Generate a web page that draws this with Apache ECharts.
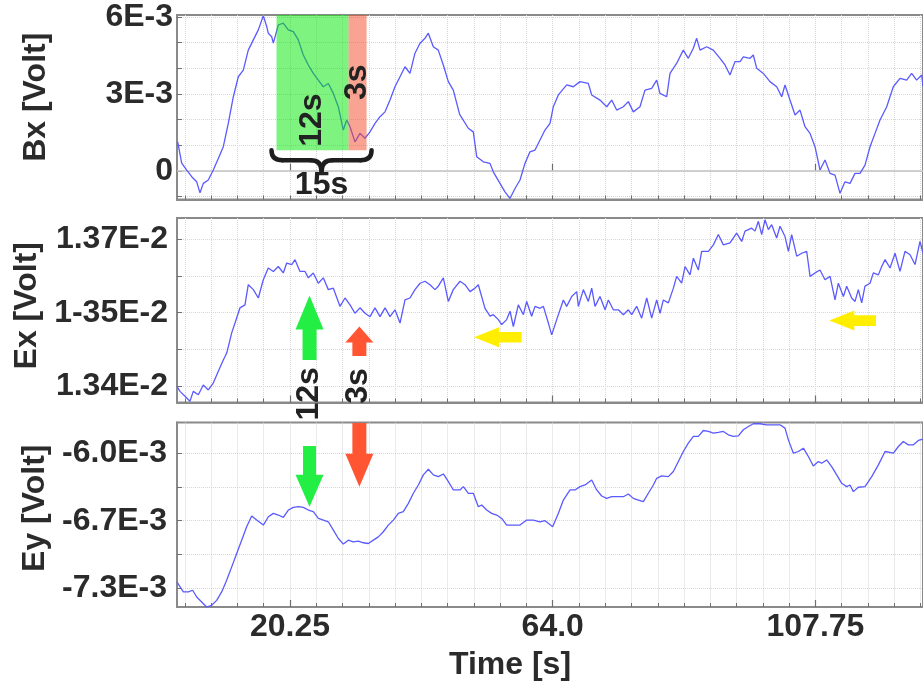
<!DOCTYPE html>
<html>
<head>
<meta charset="utf-8">
<script src="https://cdn.jsdelivr.net/npm/echarts@6/dist/echarts.min.js"></script>
<style>
  html, body { margin: 0; padding: 0; background: #fff; }
  #chart { width: 923px; height: 687px; }
</style>
</head>
<body>
<div id="chart"></div>
<script>
// ---- Recorded channels -------------------------------------------------
// Bx magnetic channel, values in units of 1e-3 V
const bxTime = [1.55, 2.21, 3.05, 3.88, 4.71, 5.26, 5.81, 6.64, 7.47, 8.31, 9.14, 9.97, 10.81, 11.64, 12.47, 13.3, 14.14, 14.97, 15.8, 16.37, 16.63, 17.2, 17.47, 18.3, 19.13, 19.96, 20.8, 21.63, 22.46, 23.3, 24.13, 24.96, 25.79, 26.63, 27.46, 28.29, 29.12, 29.69, 30.24, 31.07, 31.9, 32.74, 33.57, 34.4, 35.24, 36.07, 36.9, 37.73, 38.57, 39.4, 40.23, 41.06, 41.9, 42.73, 43.28, 44.11, 44.94, 45.78, 46.61, 47.44, 48.5, 49.94, 50.77, 51.34, 52.44, 53.55, 54.1, 55.22, 56.05, 56.88, 57.72, 58.55, 59.38, 60.21, 61.05, 61.88, 62.71, 63.55, 64.1, 64.93, 66.33, 67.43, 68.54, 69.92, 70.49, 71.87, 72.99, 73.82, 74.65, 75.75, 76.59, 77.42, 78.53, 79.36, 80.48, 81.31, 81.86, 82.98, 83.53, 84.65, 85.74, 86.58, 87.41, 87.97, 88.53, 89.64, 90.74, 91.86, 92.69, 93.52, 94.35, 95.19, 95.74, 96.85, 97.4, 97.97, 99.07, 100.18, 101.3, 102.13, 102.68, 103.51, 104.35, 105.18, 106.01, 106.84, 107.68, 108.51, 109.34, 110.18, 111.01, 111.84, 112.67, 113.51, 114.34, 115.17, 116.0, 116.84, 117.67, 118.5, 119.62, 120.71, 121.83, 122.94, 123.77, 124.6, 125.44, 125.66];
const bxValue = [1.13, 0.30, 0.03, -0.23, -0.43, -0.86, -0.49, -0.36, 0.03, 0.48, 0.94, 1.85, 2.89, 3.67, 3.93, 4.71, 5.11, 5.50, 6.05, 5.63, 5.37, 5.23, 4.98, 5.69, 5.76, 5.50, 5.43, 5.11, 4.52, 4.13, 3.80, 3.54, 3.28, 3.41, 3.02, 2.50, 1.59, 1.98, 1.72, 1.13, 1.46, 1.27, 1.52, 1.85, 2.11, 2.30, 2.76, 3.28, 3.67, 4.06, 3.80, 4.59, 4.98, 5.17, 5.37, 4.84, 4.71, 4.13, 3.48, 3.15, 2.20, 1.66, 1.52, 0.55, 0.35, 0.29, -0.04, -0.49, -0.82, -1.08, -0.69, -0.36, 0.29, 0.74, 0.81, 1.20, 1.59, 1.85, 2.50, 2.96, 3.35, 3.28, 3.48, 3.41, 2.96, 2.76, 2.50, 2.76, 2.37, 2.50, 2.70, 2.30, 2.50, 3.15, 3.22, 3.54, 3.02, 2.89, 3.80, 4.20, 4.71, 4.39, 4.78, 5.17, 4.71, 4.84, 4.71, 4.39, 4.13, 3.74, 4.26, 4.26, 4.45, 4.39, 4.52, 4.00, 3.80, 3.48, 3.28, 2.89, 3.35, 2.76, 2.18, 2.37, 1.72, 1.46, 0.94, 0.03, 0.42, -0.10, -0.17, -0.88, -0.43, -0.49, -0.10, -0.10, 0.22, 0.94, 1.46, 1.98, 2.50, 3.28, 3.61, 3.54, 3.80, 3.54, 3.74, 3.28];

// Ex electric channel, values in units of 1e-2 V
const exTime = [1.43, 1.93, 2.76, 3.59, 4.14, 4.98, 5.81, 6.64, 7.47, 8.31, 9.14, 9.71, 10.54, 11.09, 11.92, 12.75, 13.3, 14.14, 14.97, 15.8, 16.63, 17.47, 18.3, 19.13, 19.7, 20.53, 21.08, 21.91, 22.75, 23.3, 24.13, 24.96, 25.79, 26.63, 27.46, 28.57, 29.41, 30.24, 31.07, 31.9, 32.74, 33.57, 34.4, 35.24, 36.07, 36.9, 37.73, 38.57, 39.4, 40.23, 41.06, 41.9, 42.73, 43.56, 44.4, 44.95, 45.78, 46.61, 47.44, 48.56, 49.39, 50.23, 51.06, 51.61, 52.72, 53.56, 54.11, 54.94, 55.5, 56.33, 56.89, 57.44, 58.27, 59.11, 59.66, 60.49, 61.05, 61.88, 62.44, 63.27, 63.83, 64.66, 65.77, 66.32, 67.16, 67.99, 68.27, 69.1, 69.93, 70.49, 71.04, 71.87, 72.71, 73.26, 74.09, 74.93, 75.76, 76.59, 77.15, 77.98, 78.81, 79.65, 80.48, 81.31, 81.87, 82.42, 83.25, 84.09, 84.64, 85.47, 86.03, 86.86, 87.42, 88.25, 88.8, 89.92, 90.75, 91.58, 92.41, 93.52, 94.63, 95.47, 96.02, 97.13, 97.69, 98.24, 98.8, 99.35, 99.91, 100.46, 101.29, 101.85, 102.68, 103.24, 103.79, 104.63, 105.46, 106.29, 106.85, 107.68, 108.51, 109.34, 110.18, 111.01, 111.56, 112.4, 112.95, 113.78, 114.34, 114.89, 115.45, 116.0, 116.84, 117.39, 118.23, 118.78, 119.34, 120.17, 121.0, 121.83, 122.66, 123.5, 124.33, 125.16, 125.66];
const exValue = [1.3400, 1.3390, 1.3380, 1.3370, 1.3390, 1.3383, 1.3403, 1.3393, 1.3407, 1.3431, 1.3454, 1.3468, 1.3509, 1.3529, 1.3560, 1.3566, 1.3607, 1.3597, 1.3580, 1.3617, 1.3641, 1.3634, 1.3644, 1.3631, 1.3651, 1.3648, 1.3658, 1.3634, 1.3634, 1.3621, 1.3631, 1.3610, 1.3621, 1.3597, 1.3600, 1.3563, 1.3580, 1.3566, 1.3549, 1.3560, 1.3549, 1.3542, 1.3560, 1.3542, 1.3560, 1.3542, 1.3556, 1.3529, 1.3576, 1.3580, 1.3597, 1.3610, 1.3614, 1.3607, 1.3597, 1.3604, 1.3621, 1.3573, 1.3597, 1.3614, 1.3607, 1.3593, 1.3600, 1.3607, 1.3559, 1.3543, 1.3546, 1.3536, 1.3526, 1.3536, 1.3553, 1.3522, 1.3566, 1.3546, 1.3573, 1.3543, 1.3563, 1.3559, 1.3563, 1.3529, 1.3505, 1.3536, 1.3576, 1.3563, 1.3583, 1.3593, 1.3563, 1.3597, 1.3573, 1.3600, 1.3563, 1.3583, 1.3556, 1.3576, 1.3556, 1.3556, 1.3546, 1.3556, 1.3546, 1.3563, 1.3539, 1.3580, 1.3539, 1.3576, 1.3549, 1.3576, 1.3570, 1.3600, 1.3624, 1.3610, 1.3644, 1.3627, 1.3661, 1.3637, 1.3675, 1.3675, 1.3688, 1.3709, 1.3688, 1.3692, 1.3712, 1.3695, 1.3716, 1.3722, 1.3716, 1.3736, 1.3709, 1.3739, 1.3719, 1.3729, 1.3702, 1.3726, 1.3705, 1.3675, 1.3709, 1.3665, 1.3671, 1.3675, 1.3624, 1.3631, 1.3637, 1.3617, 1.3624, 1.3576, 1.3610, 1.3583, 1.3604, 1.3580, 1.3573, 1.3597, 1.3570, 1.3604, 1.3610, 1.3631, 1.3627, 1.3644, 1.3658, 1.3641, 1.3671, 1.3634, 1.3675, 1.3668, 1.3648, 1.3695, 1.3671];

// Ey electric channel, values in units of 1e-3 V
const eyTime = [1.43, 1.65, 2.49, 3.32, 4.04, 4.71, 5.54, 6.37, 7.2, 8.04, 8.87, 9.7, 10.54, 11.37, 12.2, 13.03, 13.87, 14.7, 15.81, 16.64, 17.47, 18.31, 19.14, 19.97, 20.8, 21.64, 22.47, 23.3, 24.13, 24.97, 25.8, 26.63, 27.47, 28.3, 29.13, 29.96, 30.8, 31.63, 32.46, 33.29, 34.13, 34.96, 35.79, 36.62, 37.46, 38.29, 39.12, 39.96, 40.79, 41.62, 42.45, 43.29, 44.12, 44.95, 45.79, 46.62, 47.45, 48.56, 49.12, 49.95, 50.78, 51.61, 52.17, 53.0, 53.83, 54.67, 55.5, 56.33, 57.44, 58.55, 59.66, 60.77, 61.88, 62.72, 63.99, 64.94, 65.77, 66.88, 67.71, 68.54, 69.38, 70.49, 71.32, 72.15, 72.98, 73.82, 74.65, 75.76, 76.59, 77.42, 78.26, 79.09, 79.92, 80.76, 81.31, 82.14, 83.25, 84.09, 84.92, 85.75, 86.58, 87.42, 88.25, 89.08, 89.92, 90.75, 91.58, 92.41, 93.24, 94.08, 94.91, 95.74, 96.58, 97.41, 98.52, 99.63, 100.74, 101.85, 102.68, 103.24, 104.07, 104.9, 105.74, 106.57, 107.4, 108.23, 108.79, 109.62, 110.45, 111.29, 112.12, 112.95, 113.51, 114.06, 114.89, 116.0, 117.12, 118.23, 119.34, 120.73, 121.56, 122.39, 123.22, 124.06, 124.89, 125.66];
const eyValue = [-7.240, -7.255, -7.335, -7.335, -7.319, -7.384, -7.432, -7.480, -7.464, -7.416, -7.335, -7.223, -7.094, -6.965, -6.837, -6.708, -6.605, -6.644, -6.692, -6.612, -6.579, -6.595, -6.618, -6.547, -6.521, -6.515, -6.521, -6.547, -6.563, -6.628, -6.644, -6.660, -6.740, -6.821, -6.875, -6.837, -6.853, -6.846, -6.862, -6.869, -6.837, -6.805, -6.756, -6.692, -6.644, -6.579, -6.563, -6.483, -6.386, -6.306, -6.209, -6.155, -6.209, -6.226, -6.200, -6.274, -6.354, -6.354, -6.322, -6.386, -6.386, -6.515, -6.499, -6.547, -6.579, -6.595, -6.628, -6.692, -6.692, -6.692, -6.644, -6.644, -6.660, -6.650, -6.708, -6.579, -6.451, -6.354, -6.354, -6.322, -6.306, -6.258, -6.354, -6.412, -6.435, -6.419, -6.419, -6.419, -6.393, -6.435, -6.451, -6.467, -6.386, -6.306, -6.242, -6.219, -6.226, -6.177, -6.081, -5.984, -5.904, -5.839, -5.839, -5.782, -5.791, -5.807, -5.801, -5.791, -5.823, -5.839, -5.833, -5.775, -5.743, -5.717, -5.717, -5.727, -5.727, -5.727, -5.759, -5.872, -6.000, -5.984, -5.952, -6.032, -6.123, -6.081, -6.097, -6.065, -6.129, -6.209, -6.290, -6.322, -6.306, -6.370, -6.328, -6.322, -6.226, -6.113, -5.984, -6.000, -5.936, -5.888, -5.920, -5.920, -5.878, -5.865];

// ---- Axis ticks and labels ---------------------------------------------
const timeLabelValues = [20.25, 64.0, 107.75];
const timeLabelText = ['20.25', '64.0', '107.75'];
const timeStep = 4.375;      // minor grid spacing of the time axis
const timeRange = [1.43, 125.66];

const bxTickLabels = ['0', '3E-3', '6E-3'];
const bxTickValues = [0, 3e-3, 6e-3];
const exTickLabels = ['1.34E-2', '1-35E-2', '1.37E-2'];
const exTickValues = [1.34e-2, 1.355e-2, 1.37e-2];
const eyTickLabels = ['-7.3E-3', '-6.7E-3', '-6.0E-3'];
const eyTickValues = [-7.3e-3, -6.65e-3, -6.0e-3];

// ---- Annotations (time in s, values in the channel's own units) --------
const windowEdges = [18.0, 30.0, 33.0];   // 12 s window followed by a 3 s window
const windowFloor = 0.8;                   // lower edge of the shaded windows (1e-3 V)
const windowArrows = [
  // panel, time, tail value, tip value, colour, head length, head width, shaft width
  { panel: 1, t: 23.5, from: 1.3454, to: 1.3585, color: '#22ee44', head: 34, hw: 28, sw: 14 },
  { panel: 1, t: 31.8, from: 1.3462, to: 1.3522, color: '#ff5533', head: 16, hw: 28, sw: 14 },
  { panel: 2, t: 23.5, from: -5.930, to: -6.515, color: '#22ee44', head: 32, hw: 28, sw: 13 },
  { panel: 2, t: 31.8, from: -5.710, to: -6.322, color: '#ff5533', head: 33, hw: 28, sw: 14 }
];
const lagArrows = [
  { panel: 1, v: 1.3500, from: 58.83, to: 50.89 },
  { panel: 1, v: 1.3534, from: 117.83, to: 110.06 }
];
const notes = [
  { panel: 0, t: 23.9, v: 1.98, text: '12s', rotate: true },
  { panel: 0, t: 31.5, v: 3.46, text: '3s', rotate: true },
  { panel: 0, t: 25.5, v: -0.56, text: '15s', rotate: false },
  { panel: 1, t: 23.4, v: 1.3385, text: '12s', rotate: true },
  { panel: 1, t: 31.6, v: 1.3401, text: '3s', rotate: true }
];

const units = [1e-3, 1e-2, 1e-3];
const FONT = "'Liberation Sans', Arial, sans-serif";
const INK = '#2b2b2b';
const FRAME = '#8a8a8a';
const GRIDLINE = '#d6d6d6';
const TRACE = '#5a5aff';

const timeTicks = [];
for (let t = timeLabelValues[0] - 4 * timeStep; t <= timeRange[1]; t += timeStep) {
  timeTicks.push(Math.round(t * 1000) / 1000);
}

const panels = [
  { name: 'Bx [Volt]', top: 15, min: -1.12e-3, max: 6.08e-3,
    ticks: [-1, 0, 1, 2, 3, 4, 5, 6].map(k => k * 1e-3),
    labelValues: bxTickValues, labelText: bxTickLabels, margin: 4, shift: 20 },
  { name: 'Ex [Volt]', top: 218, min: 1.33674e-2, max: 1.37427e-2,
    ticks: [1.34, 1.3475, 1.355, 1.3625, 1.37].map(k => k * 1e-2),
    labelValues: exTickValues, labelText: exTickLabels, margin: 9, shift: 9 },
  { name: 'Ey [Volt]', top: 422.5, min: -7.48e-3, max: -5.705e-3,
    ticks: [-7.3, -6.975, -6.65, -6.325, -6.0].map(k => k * 1e-3),
    labelValues: eyTickValues, labelText: eyTickLabels, margin: 10, shift: 13 }
];
const PANEL_H = 184.5;

function pairs(ts, vs, unit) {
  return ts.map((t, i) => [t, vs[i] * unit]);
}
const seriesData = [
  pairs(bxTime, bxValue, units[0]),
  pairs(exTime, exValue, units[1]),
  pairs(eyTime, eyValue, units[2])
];

const textStyle = { fontFamily: FONT, fontWeight: 'bold', fontSize: 32, color: INK };

const grids = panels.map(p => ({
  left: 177, right: 0, top: p.top, height: PANEL_H,
  show: true, borderColor: FRAME, borderWidth: 2, backgroundColor: '#fff',
  containLabel: false, outerBoundsMode: 'none'
}));

const xAxes = [];
const yAxes = [];
panels.forEach((p, i) => {
  xAxes.push({
    type: 'value', gridIndex: i, min: timeRange[0], max: timeRange[1],
    axisLine: { show: true, onZero: false, lineStyle: { color: FRAME, width: 2 } },
    axisTick: { show: true, inside: true, length: 4, customValues: timeTicks,
                lineStyle: { color: '#6f6f6f', width: 1 } },
    axisLabel: Object.assign({ show: i === 2, customValues: timeLabelValues, margin: 4,
      formatter: v => timeLabelText[timeLabelValues.findIndex(x => Math.abs(x - v) < 1e-6)] }, textStyle),
    splitLine: { show: true, lineStyle: { color: GRIDLINE, type: 'dotted', width: 1 } },
    name: i === 2 ? 'Time [s]' : '', nameLocation: 'middle', nameGap: 42,
    nameTextStyle: Object.assign({ padding: [0, 80, 0, 0] }, textStyle)
  });
  yAxes.push({
    type: 'value', gridIndex: i, min: p.min, max: p.max,
    axisLine: { show: true, onZero: false, lineStyle: { color: FRAME, width: 2 } },
    axisTick: { show: true, inside: true, length: 5, customValues: p.ticks,
                lineStyle: { color: '#6f6f6f', width: 1 } },
    axisLabel: Object.assign({ customValues: p.labelValues, margin: p.margin,
      formatter: v => p.labelText[p.labelValues.findIndex(x => Math.abs(x - v) < 1e-9)] }, textStyle),
    splitLine: { show: true, lineStyle: { color: GRIDLINE, type: 'dotted', width: 1 } },
    name: p.name, nameLocation: 'middle', nameGap: 125,
    nameTextStyle: Object.assign({ padding: [0, 0, 0, p.shift] }, textStyle)
  });
});
// longer ticks at the labelled times
panels.forEach((p, i) => {
  xAxes.push({
    type: 'value', gridIndex: i, min: timeRange[0], max: timeRange[1], position: 'bottom',
    axisLine: { show: false },
    axisTick: { show: true, inside: true, length: 7, customValues: timeLabelValues,
                lineStyle: { color: '#6f6f6f', width: 1.2 } },
    axisLabel: { show: false }, splitLine: { show: false }
  });
});

const series = seriesData.map((d, i) => ({
  type: 'line', xAxisIndex: i, yAxisIndex: i, data: d,
  symbol: 'none', showSymbol: false, animation: false, z: 2,
  lineStyle: { color: TRACE, width: 1.3 }
}));
series[0].markLine = {
  silent: true, z: 1, symbol: ['none', 'none'], animation: false,
  label: { show: false },
  lineStyle: { color: '#c2c2c2', type: 'solid', width: 1.5 },
  data: [{ yAxis: 0 }]
};
series[0].markArea = {
  silent: true, z: 3, animation: false,
  label: { show: false },
  data: [
    [{ xAxis: windowEdges[0], yAxis: windowFloor * units[0], itemStyle: { color: 'rgba(0,232,0,0.5)' } },
     { xAxis: windowEdges[1], yAxis: panels[0].max }],
    [{ xAxis: windowEdges[1], yAxis: windowFloor * units[0], itemStyle: { color: 'rgba(244,72,40,0.5)' } },
     { xAxis: windowEdges[2], yAxis: panels[0].max }]
  ]
};

const chart = echarts.init(document.getElementById('chart'), null, { renderer: 'canvas' });
chart.setOption({
  animation: false,
  backgroundColor: '#fff',
  grid: grids, xAxis: xAxes, yAxis: yAxes, series: series
});

// ---- Overlay shapes placed through the axes ----------------------------
function toPx(panel, t, v) {
  return chart.convertToPixel({ gridIndex: panel }, [t, v * units[panel]]);
}

const overlay = [];

windowArrows.forEach(a => {
  const [x, yTail] = toPx(a.panel, a.t, a.from);
  const [, yTip] = toPx(a.panel, a.t, a.to);
  const d = yTip < yTail ? 1 : -1;
  const yBase = yTip + d * a.head;
  overlay.push({
    type: 'polygon', z: 100,
    shape: { points: [[x, yTip], [x + a.hw / 2, yBase], [x + a.sw / 2, yBase], [x + a.sw / 2, yTail],
                      [x - a.sw / 2, yTail], [x - a.sw / 2, yBase], [x - a.hw / 2, yBase]] },
    style: { fill: a.color }
  });
});

lagArrows.forEach(a => {
  const [xTail, y] = toPx(a.panel, a.from, a.v);
  const [xTip] = toPx(a.panel, a.to, a.v);
  const xBase = xTip + 25;
  overlay.push({
    type: 'polygon', z: 100,
    shape: { points: [[xTip, y], [xBase, y - 10], [xBase, y - 5.3], [xTail, y - 5.3],
                      [xTail, y + 5.3], [xBase, y + 5.3], [xBase, y + 10]] },
    style: { fill: '#ffee00' }
  });
});

// curly brace under the two windows
(function () {
  const [xa, y0] = toPx(0, windowEdges[0], windowFloor);
  const [xb] = toPx(0, windowEdges[2], windowFloor);
  const L = xa - 5, R = xb + 5, C = (L + R) / 2;
  const ym = y0 + 10, yt = y0 + 21, r = 11;
  const st = { stroke: '#1e1e1e', lineWidth: 4.5, fill: null, lineCap: 'round' };
  overlay.push(
    { type: 'bezierCurve', z: 100, shape: { x1: L, y1: y0, cpx1: L, cpy1: ym, x2: L + r, y2: ym }, style: st },
    { type: 'line', z: 100, shape: { x1: L + r, y1: ym, x2: C - r, y2: ym }, style: st },
    { type: 'bezierCurve', z: 100, shape: { x1: C - r, y1: ym, cpx1: C, cpy1: ym, x2: C, y2: yt }, style: st },
    { type: 'bezierCurve', z: 100, shape: { x1: C, y1: yt, cpx1: C, cpy1: ym, x2: C + r, y2: ym }, style: st },
    { type: 'line', z: 100, shape: { x1: C + r, y1: ym, x2: R - r, y2: ym }, style: st },
    { type: 'bezierCurve', z: 100, shape: { x1: R - r, y1: ym, cpx1: R, cpy1: ym, x2: R, y2: y0 }, style: st }
  );
})();

notes.forEach(n => {
  const [x, y] = toPx(n.panel, n.t, n.v);
  overlay.push({
    type: 'text', z: 101, x: x, y: y, rotation: n.rotate ? Math.PI / 2 : 0,
    style: { text: n.text, fill: '#222', font: "bold 32px 'Liberation Sans', Arial, sans-serif",
             align: 'center', verticalAlign: 'middle' }
  });
});

chart.setOption({ graphic: { elements: overlay } });
</script>
</body>
</html>
